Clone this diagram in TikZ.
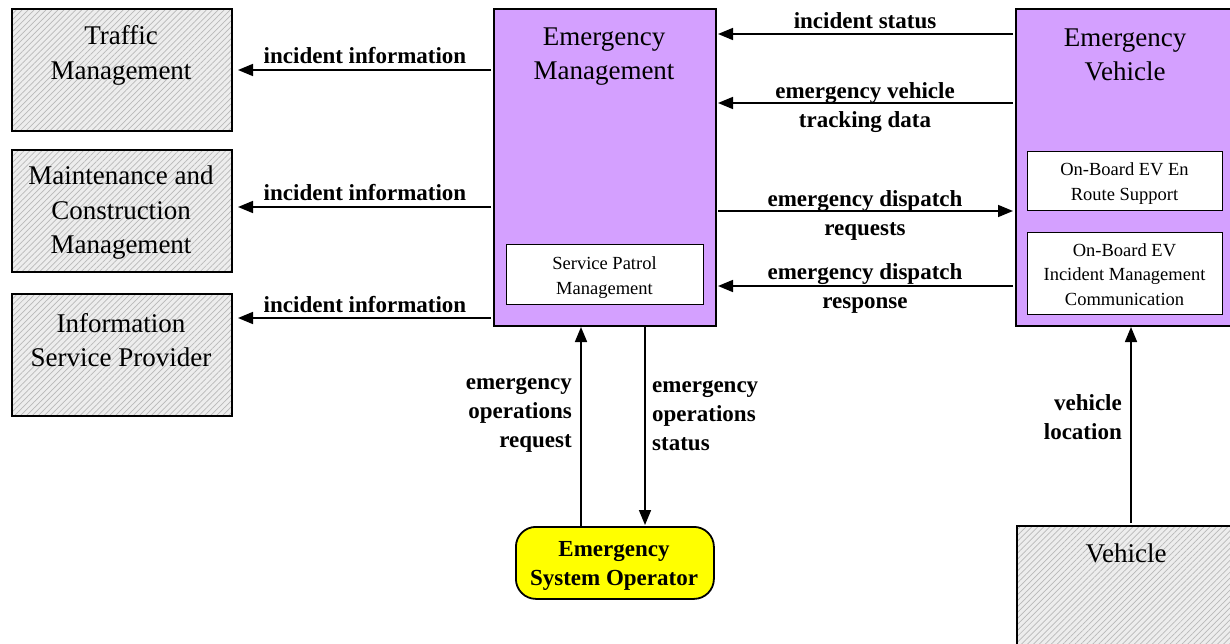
\documentclass[tikz,border=0pt]{standalone}
\usepackage{fontspec}
\setmainfont{Liberation Serif}
\usetikzlibrary{arrows.meta,patterns.meta}
\definecolor{empurple}{RGB}{212,160,255}
\definecolor{esoyellow}{RGB}{255,255,0}
\begin{document}
\begin{tikzpicture}[x=1pt,y=-1pt,
  hatchbox/.style={preaction={fill=gray!14},
    pattern={Lines[angle=45,distance=4.2pt,line width=0.7pt]},pattern color=gray!55,
    draw=black,line width=1.8pt},
  purplebox/.style={draw=black,line width=1.8pt,fill=empurple},
  innerbox/.style={draw=black,line width=1.4pt,fill=white},
  esobox/.style={draw=black,line width=1.8pt,fill=esoyellow,rounded corners=20pt},
  bigtext/.style={font=\fontsize{27}{34.5}\selectfont,align=center,inner sep=0pt},
  smalltext/.style={font=\fontsize{18.5}{24.5}\selectfont,align=center,inner sep=0pt},
  flowlabel/.style={font=\fontsize{23}{29}\selectfont\bfseries,inner sep=0pt},
  flow/.style={line width=1.6pt,-{Triangle[length=15pt,width=12pt]}}]
\useasboundingbox (0,0) rectangle (1230,644);
\clip (0,0) rectangle (1230,644);

% boxes
\node[hatchbox,minimum width=220pt,minimum height=122pt,anchor=north west,inner sep=0pt] (tm) at (11,8) {};
\node[bigtext] at (121,55.5) {Traffic\\Management};
\node[hatchbox,minimum width=220pt,minimum height=122pt,anchor=north west,inner sep=0pt] (mcm) at (11,149) {};
\node[bigtext] at (121,213) {Maintenance and\\Construction\\Management};
\node[hatchbox,minimum width=220pt,minimum height=122pt,anchor=north west,inner sep=0pt] (isp) at (11,293) {};
\node[bigtext] at (121,340) {Information\\Service Provider};

\node[purplebox,minimum width=222pt,minimum height=317pt,anchor=north west,inner sep=0pt] (em) at (493,8) {};
\node[bigtext] at (604,56.5) {Emergency\\Management};
\node[innerbox,minimum width=197pt,minimum height=60pt,anchor=north west,inner sep=0pt] (spm) at (506,244) {};
\node[smalltext] at (604.5,277.5) {Service Patrol\\Management};

\node[purplebox,minimum width=230pt,minimum height=317pt,anchor=north west,inner sep=0pt] (ev) at (1015,8) {};
\node[bigtext] at (1125,55) {Emergency\\Vehicle};
\node[innerbox,minimum width=195pt,minimum height=59pt,anchor=north west,inner sep=0pt] (enr) at (1027,151) {};
\node[smalltext] at (1124.5,183.5) {On-Board EV En\\Route Support};
\node[innerbox,minimum width=195pt,minimum height=82pt,anchor=north west,inner sep=0pt] (imc) at (1027,232) {};
\node[smalltext] at (1124.5,274.5) {On-Board EV\\Incident Management\\Communication};

\node[esobox,minimum width=198pt,minimum height=72pt,anchor=north west,inner sep=0pt] (eso) at (515,526) {};
\node[flowlabel,align=center] at (614,566) {Emergency\\System Operator};

\node[hatchbox,minimum width=230pt,minimum height=140pt,anchor=north west,inner sep=0pt] (veh) at (1016,525) {};
\node[bigtext] at (1126,553) {Vehicle};

% connectors
\coordinate (emL1) at (491,70);
\coordinate (tmR) at (238,70);
\draw[flow] (emL1) -- (tmR);
\node[flowlabel] at (365,56) {incident information};
\coordinate (emL2) at (491,207);
\coordinate (mcmR) at (238,207);
\draw[flow] (emL2) -- (mcmR);
\node[flowlabel] at (365,193) {incident information};
\coordinate (emL3) at (491,318);
\coordinate (ispR) at (238,318);
\draw[flow] (emL3) -- (ispR);
\node[flowlabel] at (365,304.5) {incident information};

\coordinate (evL1) at (1013,34);
\coordinate (emR1) at (718,34);
\draw[flow] (evL1) -- (emR1);
\node[flowlabel] at (865,20.5) {incident status};
\coordinate (evL2) at (1013,103);
\coordinate (emR2) at (718,103);
\draw[flow] (evL2) -- (emR2);
\node[flowlabel,align=center] at (865,107.5) {emergency vehicle\\tracking data};
\coordinate (emR3) at (718,211);
\coordinate (evL3) at (1013,211);
\draw[flow] (emR3) -- (evL3);
\node[flowlabel,align=center] at (865,215.5) {emergency dispatch\\requests};
\coordinate (evL4) at (1013,286);
\coordinate (emR4) at (718,286);
\draw[flow] (evL4) -- (emR4);
\node[flowlabel,align=center] at (865,288.5) {emergency dispatch\\response};

\coordinate (esoT1) at (581,526);
\coordinate (emB1) at (581,327);
\draw[flow] (esoT1) -- (emB1);
\node[flowlabel,align=right,anchor=east] at (572,415.5) {emergency\\operations\\request};
\coordinate (emB2) at (645,327);
\coordinate (esoT2) at (645,525);
\draw[flow] (emB2) -- (esoT2);
\node[flowlabel,align=left,anchor=west] at (652,415.5) {emergency\\operations\\status};

\coordinate (vehT) at (1131,523);
\coordinate (evB) at (1131,327);
\draw[flow] (vehT) -- (evB);
\node[flowlabel,align=right,anchor=east] at (1122,417.5) {vehicle\\location};
\end{tikzpicture}
\end{document}
